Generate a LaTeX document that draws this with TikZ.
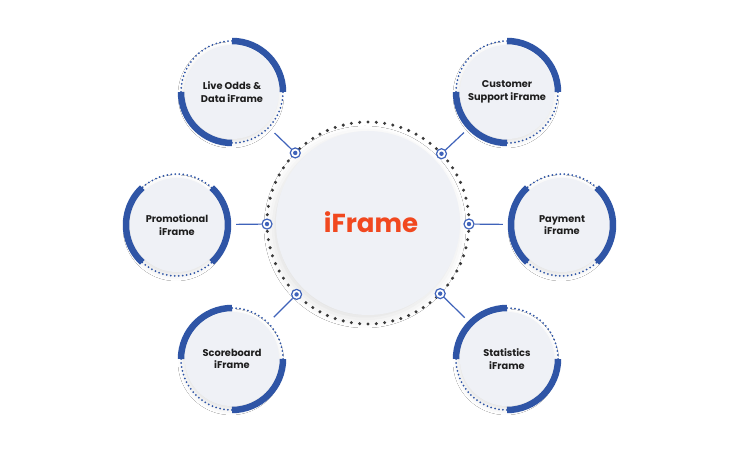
\documentclass[tikz,border=0pt]{standalone}
\usepackage{fontspec}
\setmainfont{Poppins}
\usetikzlibrary{calc,shadows.blur}
\definecolor{ringblue}{HTML}{2F55A6}
\definecolor{lineblue}{HTML}{3F63BA}
\definecolor{fillgray}{HTML}{EFF1F6}
\definecolor{dotgray}{HTML}{3A3A3A}
\definecolor{iforange}{HTML}{F1481F}
\definecolor{txt}{HTML}{1E1E1E}
\begin{document}
\begin{tikzpicture}[x=1pt,y=1pt,
 sat/.style={circle,minimum size=118pt,inner sep=0pt},
 satfill/.style={fill=fillgray,blur shadow={shadow xshift=-1pt,shadow yshift=-3pt,shadow blur radius=6pt,shadow opacity=12}},
 bluearc/.style={draw=ringblue,line width=6.5pt},
 dotarc/.style={draw=ringblue,line width=2pt,dash pattern=on 0pt off 4pt,line cap=round},
 conn/.style={circle,draw=lineblue,line width=1.2pt,fill=white,minimum size=10pt,inner sep=0pt},
 link/.style={draw=lineblue,line width=1.2pt},
 satlabel/.style={font=\bfseries\fontsize{9.8}{12.5}\selectfont,text=txt,align=center}
]
\useasboundingbox (0,0) rectangle (740,453);
\fill[white] (0,0) rectangle (740,453);

% central
\coordinate (C) at (368,230);
\fill[fill=fillgray,blur shadow={shadow xshift=-3pt,shadow yshift=-4pt,shadow blur radius=9pt,shadow opacity=12}] (C) circle (92);
\foreach \a in {0,4.7368,...,359}{\fill[dotgray] (C) ++(\a:101) circle (1.7);}
\node[font=\bfseries\fontsize{26}{30}\selectfont,text=iforange] (title) at ($(C)+(3,1)$) {iFrame};

% satellites
\node[sat] (lo) at (232,361) {};
\node[sat] (cs) at (507,361) {};
\node[sat] (pr) at (177,228) {};
\node[sat] (pa) at (562,228) {};
\node[sat] (sc) at (232,94) {};
\node[sat] (st) at (507,94) {};

\foreach \n in {lo,cs,pr,pa,sc,st}{\fill[satfill] (\n) circle (47);}

% Live Odds / Customer Support
\foreach \n in {lo,cs}{
 \draw[bluearc] (\n.center) ++(0:51) arc (0:90:51);
 \draw[bluearc] (\n.center) ++(180:51) arc (180:270:51);
 \draw[dotarc] (\n.center) ++(90:51) arc (90:180:51);
 \draw[dotarc] (\n.center) ++(270:51) arc (270:360:51);
}
% Promotional / Payment
\foreach \n in {pr,pa}{
 \draw[bluearc] (\n.center) ++(-47:51) arc (-47:47:51);
 \draw[bluearc] (\n.center) ++(133:51) arc (133:227:51);
 \draw[dotarc] (\n.center) ++(47:51) arc (47:133:51);
 \draw[dotarc] (\n.center) ++(227:51) arc (227:313:51);
}
% Scoreboard / Statistics
\foreach \n in {sc,st}{
 \draw[bluearc] (\n.center) ++(90:51) arc (90:180:51);
 \draw[bluearc] (\n.center) ++(270:51) arc (270:360:51);
 \draw[dotarc] (\n.center) ++(0:51) arc (0:90:51);
 \draw[dotarc] (\n.center) ++(180:51) arc (180:270:51);
}

\node[satlabel] at (lo) {Live Odds \&\\Data iFrame};
\node[satlabel] at (cs) {Customer\\Support iFrame};
\node[satlabel] at (pr) {Promotional\\iFrame};
\node[satlabel] at (pa) {Payment\\iFrame};
\node[satlabel] at (sc) {Scoreboard\\iFrame};
\node[satlabel] at (st) {Statistics\\iFrame};

% connectors
\foreach \n in {lo,cs,pr,pa,sc,st}{
 \node[conn] (k\n) at ($(C)!101pt!(\n)$) {};
 \draw[link] (k\n) -- (\n);
 \fill[lineblue] (k\n) circle (2.2);
}
\end{tikzpicture}
\end{document}
